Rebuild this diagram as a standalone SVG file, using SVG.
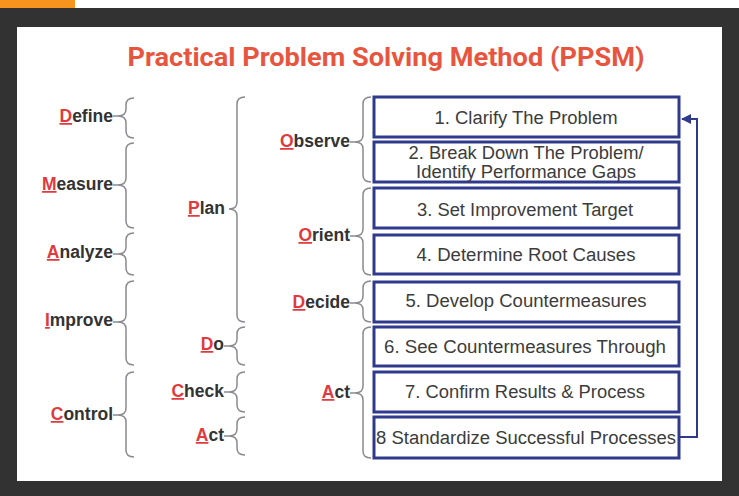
<svg xmlns="http://www.w3.org/2000/svg" width="739" height="496" viewBox="0 0 739 496">
<defs>
<style>
.lbl{font-family:"Liberation Sans",Arial,sans-serif;font-weight:bold;font-size:17.5px;fill:#333333;text-anchor:end}
.ini{fill:#E0393E;text-decoration:underline}
.br{fill:none;stroke:#8a8a90;stroke-width:1.5}
.box{fill:#ffffff;stroke:#2F3A8C;stroke-width:3}
.bt{font-family:"Liberation Sans",Arial,sans-serif;font-size:18px;fill:#3c3c3c;text-anchor:middle}
.con{fill:none;stroke:#2F3A8C;stroke-width:2}
</style>
<marker id="ah" viewBox="0 0 10 10" refX="9" refY="5" markerWidth="5" markerHeight="5" orient="auto">
<path d="M0 0 L10 5 L0 10 z" fill="#2F3A8C"/>
</marker>
</defs>
<rect x="0" y="0" width="739" height="496" fill="#ffffff"/>
<rect x="0" y="8" width="739" height="488" fill="#333232"/>
<rect x="0" y="0" width="75" height="8" fill="#F7941D"/>
<rect x="17" y="27" width="705" height="454" fill="#ffffff"/>
<text x="386" y="66" font-family="Roboto,'Open Sans',sans-serif" font-weight="bold" font-size="26" fill="#E8553E" text-anchor="middle" textLength="517" lengthAdjust="spacingAndGlyphs">Practical Problem Solving Method (PPSM)</text>

<g id="define"><text class="lbl" x="113" y="122"><tspan class="ini">D</tspan>efine</text><path class="br" d="M134 98 Q126 98 126 105 L126 109 Q126 116 118 116 Q126 116 126 123 L126 131 Q126 138 134 138 M113 116 H118"/></g>
<g id="measure"><text class="lbl" x="113" y="190"><tspan class="ini">M</tspan>easure</text><path class="br" d="M134 143 Q126 143 126 150 L126 178 Q126 185 118 185 Q126 185 126 192 L126 221 Q126 228 134 228 M113 185 H118"/></g>
<g id="analyze"><text class="lbl" x="113" y="258"><tspan class="ini">A</tspan>nalyze</text><path class="br" d="M134 233 Q126 233 126 240 L126 247 Q126 254 118 254 Q126 254 126 261 L126 268 Q126 275 134 275 M113 254 H118"/></g>
<g id="improve"><text class="lbl" x="113" y="326"><tspan class="ini">I</tspan>mprove</text><path class="br" d="M134 281 Q126 281 126 288 L126 315 Q126 322 118 322 Q126 322 126 329 L126 358 Q126 365 134 365 M113 322 H118"/></g>
<g id="control"><text class="lbl" x="113" y="420"><tspan class="ini">C</tspan>ontrol</text><path class="br" d="M134 372 Q126 372 126 379 L126 408 Q126 415 118 415 Q126 415 126 422 L126 450 Q126 457 134 457 M113 415 H118"/></g>

<g id="plan"><text class="lbl" x="225" y="214"><tspan class="ini">P</tspan>lan</text><path class="br" d="M245 97 Q237 97 237 104 L237 202 Q237 209 229 209 Q237 209 237 216 L237 315 Q237 322 245 322"/></g>
<g id="do"><text class="lbl" x="224" y="350"><tspan class="ini">D</tspan>o</text><path class="br" d="M245 327 Q237 327 237 334 L237 339 Q237 346 229 346 Q237 346 237 353 L237 358 Q237 365 245 365 M224 346 H229"/></g>
<g id="check"><text class="lbl" x="224" y="397"><tspan class="ini">C</tspan>heck</text><path class="br" d="M245 372 Q237 372 237 379 L237 385 Q237 392 229 392 Q237 392 237 399 L237 405 Q237 412 245 412 M224 392 H229"/></g>
<g id="act-pdca"><text class="lbl" x="224" y="441"><tspan class="ini">A</tspan>ct</text><path class="br" d="M245 417 Q237 417 237 424 L237 429 Q237 436 229 436 Q237 436 237 443 L237 448 Q237 455 245 455 M224 436 H229"/></g>

<g id="observe"><text class="lbl" x="350" y="147"><tspan class="ini">O</tspan>bserve</text><path class="br" d="M371 97 Q363 97 363 104 L363 135 Q363 142 355 142 Q363 142 363 149 L363 175 Q363 182 371 182 M350 142 H355"/></g>
<g id="orient"><text class="lbl" x="350" y="241"><tspan class="ini">O</tspan>rient</text><path class="br" d="M371 188 Q363 188 363 195 L363 229 Q363 236 355 236 Q363 236 363 243 L363 268 Q363 275 371 275 M350 236 H355"/></g>
<g id="decide"><text class="lbl" x="350" y="308"><tspan class="ini">D</tspan>ecide</text><path class="br" d="M371 281 Q363 281 363 288 L363 296 Q363 303 355 303 Q363 303 363 310 L363 315 Q363 322 371 322 M350 303 H355"/></g>
<g id="act-ooda"><text class="lbl" x="350" y="398"><tspan class="ini">A</tspan>ct</text><path class="br" d="M371 327 Q363 327 363 334 L363 386 Q363 393 355 393 Q363 393 363 400 L363 451 Q363 458 371 458 M350 393 H355"/></g>

<g id="step1"><rect class="box" x="374" y="97" width="305" height="40"/><text class="bt" x="526" y="124" textLength="183" lengthAdjust="spacingAndGlyphs">1. Clarify The Problem</text></g>
<g id="step2"><rect class="box" x="374" y="142" width="305" height="40"/><text class="bt" x="526" y="159" textLength="235" lengthAdjust="spacingAndGlyphs">2. Break Down The Problem/</text><text class="bt" x="526" y="178" textLength="220" lengthAdjust="spacingAndGlyphs">Identify Performance Gaps</text></g>
<g id="step3"><rect class="box" x="374" y="188" width="305" height="40"/><text class="bt" x="525" y="216" textLength="216" lengthAdjust="spacingAndGlyphs">3. Set Improvement Target</text></g>
<g id="step4"><rect class="box" x="374" y="235" width="305" height="39"/><text class="bt" x="526" y="261" textLength="219" lengthAdjust="spacingAndGlyphs">4. Determine Root Causes</text></g>
<g id="step5"><rect class="box" x="374" y="282" width="305" height="40"/><text class="bt" x="526" y="307" textLength="241" lengthAdjust="spacingAndGlyphs">5. Develop Countermeasures</text></g>
<g id="step6"><rect class="box" x="374" y="327" width="305" height="39"/><text class="bt" x="525" y="353" textLength="282" lengthAdjust="spacingAndGlyphs">6. See Countermeasures Through</text></g>
<g id="step7"><rect class="box" x="374" y="372" width="305" height="40"/><text class="bt" x="525" y="398" textLength="240" lengthAdjust="spacingAndGlyphs">7. Confirm Results &amp; Process</text></g>
<g id="step8"><rect class="box" x="374" y="417" width="305" height="41"/><text class="bt" x="526" y="444" textLength="300" lengthAdjust="spacingAndGlyphs">8 Standardize Successful Processes</text></g>

<g id="connectors">
<path class="con" d="M679 437 H697 V119 H682" marker-end="url(#ah)"/>
</g>
</svg>
